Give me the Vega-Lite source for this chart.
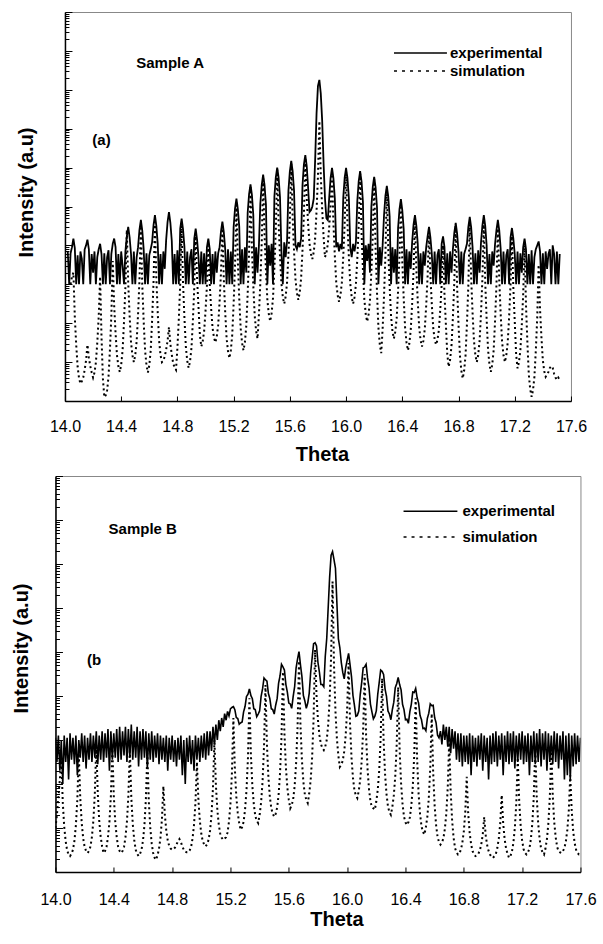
{
"$schema":"https://vega.github.io/schema/vega-lite/v6.json",
"background":"white",
"padding":{"left":10,"top":11,"right":0,"bottom":0},
"config":{"font":"Liberation Sans","view":{"stroke":"#888888","strokeWidth":1},
"axis":{"domainColor":"black","domainWidth":1.5,"tickColor":"black","tickWidth":1,"grid":false,"labelColor":"black","titleColor":"black","labelFontSize":16,"titleFontSize":20,"titleFontWeight":"bold","labelFlush":false,"labelOverlap":false,"zindex":1},
"legend":{"labelFontSize":15,"labelFontWeight":"bold","labelColor":"black"}},
"datasets":{
"a":[{"t":14.02,"e":7000},{"t":14.03,"e":1000},{"t":14.04,"e":6300,"s":1000},{"t":14.05,"e":9000,"s":1580},{"t":14.06,"e":15000,"s":2000},{"t":14.07,"e":8500,"s":145},{"t":14.08,"e":1000,"s":28},{"t":14.09,"e":5600,"s":7.6},{"t":14.10,"e":1000,"s":3.9},{"t":14.11,"e":7000,"s":2.8},{"t":14.12,"e":4500,"s":3.2},{"t":14.13,"e":1000,"s":4},{"t":14.14,"e":7900,"s":6.3},{"t":14.15,"e":10000,"s":11},{"t":14.16,"e":14000,"s":28},{"t":14.17,"e":8000,"s":13},{"t":14.18,"e":1000,"s":7.9},{"t":14.19,"e":6000,"s":5.4},{"t":14.20,"e":2000,"s":4},{"t":14.21,"e":7000,"s":5.4},{"t":14.22,"e":1000,"s":9.8},{"t":14.23,"e":5000,"s":32},{"t":14.24,"e":8000,"s":145},{"t":14.25,"e":11000,"s":1580},{"t":14.26,"e":6000,"s":45},{"t":14.27,"e":1000,"s":3.7},{"t":14.28,"e":6300,"s":1.26},{"t":14.29,"e":1000,"s":1.4},{"t":14.30,"e":5000,"s":1.9},{"t":14.31,"e":7500,"s":4.3},{"t":14.32,"e":1000,"s":21},{"t":14.33,"e":6000,"s":158},{"t":14.34,"e":11000,"s":3980},{"t":14.35,"e":15000,"s":288},{"t":14.36,"e":9000,"s":56},{"t":14.37,"e":1000,"s":15},{"t":14.38,"e":6000,"s":7.8},{"t":14.39,"e":1000,"s":5.6},{"t":14.40,"e":7000,"s":8.5},{"t":14.41,"e":3000,"s":20},{"t":14.42,"e":1000,"s":107},{"t":14.43,"e":7000,"s":870},{"t":14.44,"e":17000,"s":25100},{"t":14.45,"e":30000,"s":1100},{"t":14.46,"e":16000,"s":155},{"t":14.47,"e":6000,"s":32},{"t":14.48,"e":1000,"s":15},{"t":14.49,"e":7000,"s":10},{"t":14.50,"e":1000,"s":15},{"t":14.51,"e":5000,"s":34},{"t":14.52,"e":9000,"s":170},{"t":14.53,"e":25000,"s":1260},{"t":14.54,"e":45000,"s":31600},{"t":14.55,"e":24000,"s":980},{"t":14.56,"e":8000,"s":112},{"t":14.57,"e":1000,"s":20},{"t":14.58,"e":6300,"s":8.3},{"t":14.59,"e":1000,"s":5.4},{"t":14.60,"e":5600,"s":8.3},{"t":14.61,"e":8000,"s":20},{"t":14.62,"e":12000,"s":120},{"t":14.63,"e":33000,"s":1120},{"t":14.64,"e":60000,"s":39800},{"t":14.65,"e":32000,"s":1450},{"t":14.66,"e":11000,"s":182},{"t":14.67,"e":1000,"s":35},{"t":14.68,"e":6000,"s":15},{"t":14.69,"e":1000,"s":10},{"t":14.70,"e":7000,"s":11},{"t":14.71,"e":2500,"s":14},{"t":14.72,"e":14000,"s":21},{"t":14.73,"e":40000,"s":35},{"t":14.74,"e":72000,"s":79},{"t":14.75,"e":38000,"s":29},{"t":14.76,"e":13000,"s":15.5},{"t":14.77,"e":1000,"s":9.3},{"t":14.78,"e":6000,"s":7.2},{"t":14.79,"e":1000,"s":6.3},{"t":14.80,"e":7500,"s":23},{"t":14.81,"e":1000,"s":126},{"t":14.82,"e":27000,"s":1050},{"t":14.83,"e":49000,"s":31600},{"t":14.84,"e":26000,"s":1100},{"t":14.85,"e":9000,"s":135},{"t":14.86,"e":1000,"s":25},{"t":14.87,"e":7000,"s":10.7},{"t":14.88,"e":1000,"s":7.1},{"t":14.89,"e":5000,"s":10.5},{"t":14.90,"e":7900,"s":23},{"t":14.91,"e":1000,"s":115},{"t":14.92,"e":15000,"s":830},{"t":14.93,"e":27000,"s":20000},{"t":14.94,"e":14000,"s":1380},{"t":14.95,"e":5000,"s":263},{"t":14.96,"e":1000,"s":49},{"t":14.97,"e":7000,"s":25},{"t":14.98,"e":1000,"s":34},{"t":14.99,"e":6300,"s":62},{"t":15.00,"e":1000,"s":204},{"t":15.01,"e":9000,"s":910},{"t":15.02,"e":15000,"s":10000},{"t":15.03,"e":8000,"s":1000},{"t":15.04,"e":1000,"s":240},{"t":15.05,"e":6000,"s":76},{"t":15.06,"e":1000,"s":43},{"t":15.07,"e":7000,"s":32},{"t":15.08,"e":2000,"s":45},{"t":15.09,"e":6300,"s":89},{"t":15.10,"e":9000,"s":355},{"t":15.11,"e":23000,"s":2000},{"t":15.12,"e":41000,"s":31600},{"t":15.13,"e":22000,"s":1380},{"t":15.14,"e":8000,"s":195},{"t":15.15,"e":1000,"s":41},{"t":15.16,"e":8000,"s":19},{"t":15.17,"e":1000,"s":12.6},{"t":15.18,"e":7000,"s":20},{"t":15.19,"e":1000,"s":50},{"t":15.20,"e":30000,"s":316},{"t":15.21,"e":90000,"s":3160},{"t":15.22,"e":160000,"s":126000},{"t":15.23,"e":85000,"s":3800},{"t":15.24,"e":30000,"s":427},{"t":15.25,"e":1000,"s":74},{"t":15.26,"e":8000,"s":31},{"t":15.27,"e":1000,"s":20},{"t":15.28,"e":9000,"s":32},{"t":15.29,"e":2000,"s":85},{"t":15.30,"e":70000,"s":590},{"t":15.31,"e":210000,"s":6600},{"t":15.32,"e":370000,"s":316000},{"t":15.33,"e":200000,"s":8700},{"t":15.34,"e":60000,"s":930},{"t":15.35,"e":1000,"s":155},{"t":15.36,"e":9000,"s":63},{"t":15.37,"e":2000,"s":40},{"t":15.38,"e":10000,"s":166},{"t":15.39,"e":120000,"s":1120},{"t":15.40,"e":360000,"s":12300},{"t":15.41,"e":660000,"s":562000},{"t":15.42,"e":350000,"s":18600},{"t":15.43,"e":110000,"s":2240},{"t":15.44,"e":1000,"s":398},{"t":15.45,"e":10000,"s":174},{"t":15.46,"e":3000,"s":112},{"t":15.47,"e":11000,"s":178},{"t":15.48,"e":1000,"s":437},{"t":15.49,"e":180000,"s":2630},{"t":15.50,"e":560000,"s":24500},{"t":15.51,"e":1000000,"s":891000},{"t":15.52,"e":550000,"s":37200},{"t":15.53,"e":170000,"s":5130},{"t":15.54,"e":7000,"s":1050},{"t":15.55,"e":1000,"s":468},{"t":15.56,"e":12000,"s":316},{"t":15.57,"e":5000,"s":479},{"t":15.58,"e":13000,"s":1100},{"t":15.59,"e":260000,"s":5750},{"t":15.60,"e":800000,"s":45700},{"t":15.61,"e":1500000,"s":1260000},{"t":15.62,"e":800000,"s":50100},{"t":15.63,"e":250000,"s":6760},{"t":15.64,"e":10000,"s":1350},{"t":15.65,"e":8000,"s":603},{"t":15.66,"e":12000,"s":398},{"t":15.67,"e":9000,"s":603},{"t":15.68,"e":15000,"s":1410},{"t":15.69,"e":350000,"s":7590},{"t":15.70,"e":1200000,"s":61700},{"t":15.71,"e":2100000,"s":1780000},{"t":15.72,"e":1100000,"s":162000},{"t":15.73,"e":300000,"s":36300},{"t":15.74,"e":72000,"s":11000},{"t":15.75,"e":80000,"s":6030},{"t":15.76,"e":100000,"s":4470},{"t":15.77,"e":160000,"s":6760},{"t":15.78,"e":1600000,"s":15100},{"t":15.79,"e":25000000,"s":77600},{"t":15.80,"e":126000000,"s":603000},{"t":15.81,"e":180000000,"s":15800000},{"t":15.82,"e":80000000,"s":631000},{"t":15.83,"e":16000000,"s":85100},{"t":15.84,"e":1260000,"s":16600},{"t":15.85,"e":160000,"s":5010},{"t":15.86,"e":50000,"s":6460},{"t":15.87,"e":45000,"s":10700},{"t":15.88,"e":170000,"s":29500},{"t":15.89,"e":550000,"s":105000},{"t":15.90,"e":980000,"s":794000},{"t":15.91,"e":530000,"s":36300},{"t":15.92,"e":160000,"s":5370},{"t":15.93,"e":9000,"s":1120},{"t":15.94,"e":12000,"s":525},{"t":15.95,"e":7000,"s":355},{"t":15.96,"e":11000,"s":525},{"t":15.97,"e":8000,"s":1120},{"t":15.98,"e":170000,"s":5250},{"t":15.99,"e":550000,"s":36300},{"t":16.00,"e":980000,"s":794000},{"t":16.01,"e":530000,"s":34700},{"t":16.02,"e":160000,"s":4900},{"t":16.03,"e":9000,"s":1020},{"t":16.04,"e":5000,"s":468},{"t":16.05,"e":11000,"s":316},{"t":16.06,"e":7000,"s":468},{"t":16.07,"e":12000,"s":1000},{"t":16.08,"e":140000,"s":4680},{"t":16.09,"e":450000,"s":32400},{"t":16.10,"e":810000,"s":708000},{"t":16.11,"e":440000,"s":21400},{"t":16.12,"e":130000,"s":2340},{"t":16.13,"e":1000,"s":407},{"t":16.14,"e":10000,"s":170},{"t":16.15,"e":4000,"s":110},{"t":16.16,"e":11000,"s":166},{"t":16.17,"e":2000,"s":389},{"t":16.18,"e":100000,"s":2090},{"t":16.19,"e":320000,"s":17400},{"t":16.20,"e":580000,"s":501000},{"t":16.21,"e":310000,"s":8130},{"t":16.22,"e":95000,"s":617},{"t":16.23,"e":1000,"s":78},{"t":16.24,"e":9000,"s":28},{"t":16.25,"e":3000,"s":17},{"t":16.26,"e":10000,"s":71},{"t":16.27,"e":60000,"s":501},{"t":16.28,"e":190000,"s":5750},{"t":16.29,"e":340000,"s":282000},{"t":16.30,"e":180000,"s":8130},{"t":16.31,"e":55000,"s":891},{"t":16.32,"e":1000,"s":151},{"t":16.33,"e":9000,"s":62},{"t":16.34,"e":2000,"s":40},{"t":16.35,"e":8000,"s":60},{"t":16.36,"e":1000,"s":135},{"t":16.37,"e":28000,"s":676},{"t":16.38,"e":85000,"s":5010},{"t":16.39,"e":155000,"s":126000},{"t":16.40,"e":80000,"s":3800},{"t":16.41,"e":26000,"s":437},{"t":16.42,"e":1000,"s":76},{"t":16.43,"e":8000,"s":32},{"t":16.44,"e":1000,"s":20},{"t":16.45,"e":7000,"s":30},{"t":16.46,"e":2500,"s":66},{"t":16.47,"e":12000,"s":316},{"t":16.48,"e":34000,"s":2240},{"t":16.49,"e":60000,"s":50100},{"t":16.50,"e":32000,"s":2400},{"t":16.51,"e":11000,"s":363},{"t":16.52,"e":1000,"s":79},{"t":16.53,"e":6300,"s":37},{"t":16.54,"e":1000,"s":25},{"t":16.55,"e":7000,"s":35},{"t":16.56,"e":3000,"s":71},{"t":16.57,"e":9000,"s":282},{"t":16.58,"e":17000,"s":1580},{"t":16.59,"e":30000,"s":25100},{"t":16.60,"e":16000,"s":1660},{"t":16.61,"e":6000,"s":302},{"t":16.62,"e":1000,"s":76},{"t":16.63,"e":7000,"s":39},{"t":16.64,"e":1000,"s":28},{"t":16.65,"e":5600,"s":37},{"t":16.66,"e":8000,"s":66},{"t":16.67,"e":1000,"s":219},{"t":16.68,"e":11000,"s":955},{"t":16.69,"e":17000,"s":10000},{"t":16.70,"e":9000,"s":562},{"t":16.71,"e":1000,"s":93},{"t":16.72,"e":6300,"s":16},{"t":16.73,"e":1000,"s":7.6},{"t":16.74,"e":7000,"s":11.5},{"t":16.75,"e":2000,"s":26},{"t":16.76,"e":8000,"s":141},{"t":16.77,"e":21000,"s":1120},{"t":16.78,"e":38000,"s":31600},{"t":16.79,"e":20000,"s":851},{"t":16.80,"e":7000,"s":89},{"t":16.81,"e":1000,"s":15},{"t":16.82,"e":7000,"s":6},{"t":16.83,"e":1000,"s":3.8},{"t":16.84,"e":6000,"s":6},{"t":16.85,"e":8000,"s":15},{"t":16.86,"e":11000,"s":98},{"t":16.87,"e":30000,"s":977},{"t":16.88,"e":54000,"s":39800},{"t":16.89,"e":29000,"s":1450},{"t":16.90,"e":9000,"s":182},{"t":16.91,"e":1000,"s":35},{"t":16.92,"e":6300,"s":15},{"t":16.93,"e":1000,"s":10},{"t":16.94,"e":7500,"s":15},{"t":16.95,"e":2000,"s":35},{"t":16.96,"e":12000,"s":182},{"t":16.97,"e":33000,"s":1450},{"t":16.98,"e":60000,"s":39800},{"t":16.99,"e":32000,"s":1150},{"t":17.00,"e":10000,"s":126},{"t":17.01,"e":1000,"s":21},{"t":17.02,"e":6000,"s":8.7},{"t":17.03,"e":1000,"s":5.6},{"t":17.04,"e":7000,"s":8.7},{"t":17.05,"e":3000,"s":20},{"t":17.06,"e":11000,"s":115},{"t":17.07,"e":25000,"s":1000},{"t":17.08,"e":45000,"s":31600},{"t":17.09,"e":24000,"s":1260},{"t":17.10,"e":8000,"s":166},{"t":17.11,"e":1000,"s":33},{"t":17.12,"e":7000,"s":15},{"t":17.13,"e":1000,"s":10},{"t":17.14,"e":5600,"s":15},{"t":17.15,"e":8000,"s":32},{"t":17.16,"e":1000,"s":145},{"t":17.17,"e":16000,"s":955},{"t":17.18,"e":28000,"s":20000},{"t":17.19,"e":15000,"s":832},{"t":17.20,"e":6000,"s":112},{"t":17.21,"e":1000,"s":15.5},{"t":17.22,"e":7000,"s":6.9},{"t":17.23,"e":1000,"s":10},{"t":17.24,"e":6300,"s":20},{"t":17.25,"e":2000,"s":89},{"t":17.26,"e":9000,"s":550},{"t":17.27,"e":15000,"s":10000},{"t":17.28,"e":8000,"s":295},{"t":17.29,"e":1000,"s":32},{"t":17.30,"e":6000,"s":4.8},{"t":17.31,"e":1000,"s":2},{"t":17.32,"e":7500,"s":1.29},{"t":17.33,"e":1000,"s":1.9},{"t":17.34,"e":5000,"s":4.2},{"t":17.35,"e":8000,"s":20},{"t":17.36,"e":10000,"s":138},{"t":17.37,"e":12600,"s":3160},{"t":17.38,"e":7000,"s":224},{"t":17.39,"e":1000,"s":43},{"t":17.40,"e":6300,"s":11},{"t":17.41,"e":1000,"s":5.8},{"t":17.42,"e":7000,"s":4.2},{"t":17.43,"e":2500,"s":4.8},{"t":17.44,"e":6000,"s":5.6},{"t":17.45,"e":8000,"s":7.1},{"t":17.46,"e":1000,"s":7.9},{"t":17.47,"e":10000,"s":7.1},{"t":17.48,"e":6000,"s":5},{"t":17.49,"e":1000,"s":4},{"t":17.50,"e":7000,"s":3.5},{"t":17.51,"e":1000,"s":4},{"t":17.52,"e":6000,"s":3.5}],
"b":[{"t":14.00,"e":1122,"s":10},{"t":14.01,"e":316,"s":20},{"t":14.02,"e":1259,"s":50},{"t":14.03,"e":200,"s":126},{"t":14.04,"e":1000,"s":398},{"t":14.05,"e":100,"s":39},{"t":14.06,"e":1259,"s":10.7},{"t":14.07,"e":316,"s":5},{"t":14.08,"e":1122,"s":3.1},{"t":14.09,"e":126,"s":2.5},{"t":14.10,"e":1413,"s":2.3},{"t":14.11,"e":355,"s":2.6},{"t":14.12,"e":1122,"s":3.2},{"t":14.13,"e":282,"s":5.1},{"t":14.14,"e":1259,"s":11.5},{"t":14.15,"e":158,"s":45},{"t":14.16,"e":1000,"s":501},{"t":14.17,"e":398,"s":48},{"t":14.18,"e":1413,"s":12.9},{"t":14.19,"e":316,"s":5.9},{"t":14.20,"e":1259,"s":3.7},{"t":14.21,"e":224,"s":3},{"t":14.22,"e":1122,"s":2.7},{"t":14.23,"e":355,"s":3},{"t":14.24,"e":1413,"s":3.8},{"t":14.25,"e":316,"s":6.3},{"t":14.26,"e":1259,"s":14.8},{"t":14.27,"e":398,"s":62},{"t":14.28,"e":1585,"s":794},{"t":14.29,"e":282,"s":62},{"t":14.30,"e":1259,"s":14.8},{"t":14.31,"e":355,"s":6.3},{"t":14.32,"e":1585,"s":3.8},{"t":14.33,"e":316,"s":2.7},{"t":14.34,"e":1413,"s":3},{"t":14.35,"e":398,"s":3.7},{"t":14.36,"e":1778,"s":6.2},{"t":14.37,"e":200,"s":13.8},{"t":14.38,"e":1585,"s":54},{"t":14.39,"e":355,"s":631},{"t":14.40,"e":1413,"s":54},{"t":14.41,"e":398,"s":13.8},{"t":14.42,"e":1778,"s":6.2},{"t":14.43,"e":316,"s":3.7},{"t":14.44,"e":1995,"s":3},{"t":14.45,"e":355,"s":2.7},{"t":14.46,"e":1585,"s":3},{"t":14.47,"e":447,"s":3.7},{"t":14.48,"e":1995,"s":6.2},{"t":14.49,"e":316,"s":13.8},{"t":14.50,"e":1778,"s":54},{"t":14.51,"e":398,"s":631},{"t":14.52,"e":2239,"s":50},{"t":14.53,"e":355,"s":12.3},{"t":14.54,"e":1585,"s":5.4},{"t":14.55,"e":398,"s":3.2},{"t":14.56,"e":1995,"s":2.6},{"t":14.57,"e":251,"s":2.3},{"t":14.58,"e":1585,"s":2.6},{"t":14.59,"e":355,"s":3.2},{"t":14.60,"e":1778,"s":5.1},{"t":14.61,"e":398,"s":11.5},{"t":14.62,"e":1585,"s":45},{"t":14.63,"e":224,"s":501},{"t":14.64,"e":1413,"s":41},{"t":14.65,"e":355,"s":10.2},{"t":14.66,"e":1585,"s":4.4},{"t":14.67,"e":316,"s":2.7},{"t":14.68,"e":1259,"s":2.1},{"t":14.69,"e":398,"s":1.9},{"t":14.70,"e":1413,"s":2.4},{"t":14.71,"e":282,"s":3.4},{"t":14.72,"e":1259,"s":6},{"t":14.73,"e":355,"s":15.8},{"t":14.74,"e":1122,"s":89},{"t":14.75,"e":316,"s":20},{"t":14.76,"e":1259,"s":8.7},{"t":14.77,"e":200,"s":5.2},{"t":14.78,"e":1122,"s":3.9},{"t":14.79,"e":355,"s":3.4},{"t":14.80,"e":1259,"s":3.2},{"t":14.81,"e":316,"s":3.3},{"t":14.82,"e":1000,"s":3.6},{"t":14.83,"e":251,"s":4.2},{"t":14.84,"e":1122,"s":5},{"t":14.85,"e":355,"s":5.6},{"t":14.86,"e":1259,"s":4.8},{"t":14.87,"e":158,"s":3.8},{"t":14.88,"e":1000,"s":3.2},{"t":14.89,"e":100,"s":2.9},{"t":14.90,"e":1122,"s":2.8},{"t":14.91,"e":316,"s":2.8},{"t":14.92,"e":1259,"s":3.1},{"t":14.93,"e":282,"s":3.7},{"t":14.94,"e":1000,"s":5.8},{"t":14.95,"e":200,"s":11.7},{"t":14.96,"e":1259,"s":38},{"t":14.97,"e":355,"s":316},{"t":14.98,"e":1122,"s":44},{"t":14.99,"e":316,"s":14.5},{"t":15.00,"e":1259,"s":7.4},{"t":15.01,"e":398,"s":5},{"t":15.02,"e":1413,"s":4.2},{"t":15.03,"e":355,"s":3.8},{"t":15.04,"e":1585,"s":4.3},{"t":15.05,"e":447,"s":5.4},{"t":15.06,"e":1585,"s":8.7},{"t":15.07,"e":562,"s":20},{"t":15.08,"e":1995,"s":81},{"t":15.09,"e":794,"s":1000},{"t":15.10,"e":2239,"s":95},{"t":15.11,"e":1000,"s":26},{"t":15.12,"e":2818,"s":11.7},{"t":15.13,"e":1585,"s":7.4},{"t":15.14,"e":3162,"s":6},{"t":15.15,"e":1995,"s":5.4},{"t":15.16,"e":3981,"s":5.8},{"t":15.17,"e":2818,"s":6.2},{"t":15.18,"e":4467,"s":7.9},{"t":15.19,"e":3548,"s":14.1},{"t":15.20,"e":5129,"s":36},{"t":15.21,"e":5495,"s":178},{"t":15.22,"e":5754,"s":3162},{"t":15.23,"e":4898,"s":229},{"t":15.24,"e":3236,"s":52},{"t":15.25,"e":3090,"s":22},{"t":15.26,"e":2291,"s":12.9},{"t":15.27,"e":2455,"s":9.1},{"t":15.28,"e":2570,"s":10.5},{"t":15.29,"e":4365,"s":13.8},{"t":15.30,"e":5754,"s":26},{"t":15.31,"e":9772,"s":72},{"t":15.32,"e":10965,"s":398},{"t":15.33,"e":14454,"s":8913},{"t":15.34,"e":10233,"s":468},{"t":15.35,"e":8710,"s":91},{"t":15.36,"e":5129,"s":35},{"t":15.37,"e":4898,"s":19},{"t":15.38,"e":3388,"s":14.8},{"t":15.39,"e":3890,"s":12.9},{"t":15.40,"e":4571,"s":20},{"t":15.41,"e":9772,"s":38},{"t":15.42,"e":14454,"s":112},{"t":15.43,"e":25704,"s":692},{"t":15.44,"e":23442,"s":17783},{"t":15.45,"e":21878,"s":794},{"t":15.46,"e":11482,"s":145},{"t":15.47,"e":8710,"s":51},{"t":15.48,"e":5129,"s":28},{"t":15.49,"e":4898,"s":21},{"t":15.50,"e":3890,"s":18},{"t":15.51,"e":6166,"s":21},{"t":15.52,"e":8710,"s":29},{"t":15.53,"e":19498,"s":56},{"t":15.54,"e":28840,"s":178},{"t":15.55,"e":52481,"s":1175},{"t":15.56,"e":45709,"s":35481},{"t":15.57,"e":38905,"s":1445},{"t":15.58,"e":18197,"s":240},{"t":15.59,"e":12303,"s":83},{"t":15.60,"e":6918,"s":44},{"t":15.61,"e":6607,"s":28},{"t":15.62,"e":5248,"s":33},{"t":15.63,"e":9772,"s":45},{"t":15.64,"e":16218,"s":89},{"t":15.65,"e":43652,"s":288},{"t":15.66,"e":69183,"s":1950},{"t":15.67,"e":102329,"s":63096},{"t":15.68,"e":51286,"s":2239},{"t":15.69,"e":27542,"s":347},{"t":15.70,"e":10233,"s":112},{"t":15.71,"e":7762,"s":58},{"t":15.72,"e":5248,"s":44},{"t":15.73,"e":6918,"s":37},{"t":15.74,"e":11482,"s":60},{"t":15.75,"e":34674,"s":123},{"t":15.76,"e":72444,"s":407},{"t":15.77,"e":154882,"s":3020},{"t":15.78,"e":162181,"s":112202},{"t":15.79,"e":138038,"s":10471},{"t":15.80,"e":57544,"s":2818},{"t":15.81,"e":34674,"s":1288},{"t":15.82,"e":18197,"s":813},{"t":15.83,"e":18197,"s":661},{"t":15.84,"e":16218,"s":589},{"t":15.85,"e":79433,"s":708},{"t":15.86,"e":199526,"s":1000},{"t":15.87,"e":1000000,"s":2188},{"t":15.88,"e":5011872,"s":8318},{"t":15.89,"e":15848932,"s":75858},{"t":15.90,"e":19054607,"s":3981072},{"t":15.91,"e":12589254,"s":50119},{"t":15.92,"e":7943282,"s":4467},{"t":15.93,"e":1258925,"s":1047},{"t":15.94,"e":199526,"s":437},{"t":15.95,"e":125893,"s":245},{"t":15.96,"e":57544,"s":275},{"t":15.97,"e":34674,"s":339},{"t":15.98,"e":24547,"s":550},{"t":15.99,"e":43652,"s":1259},{"t":16.00,"e":64565,"s":4898},{"t":16.01,"e":93325,"s":56234},{"t":16.02,"e":51286,"s":2344},{"t":16.03,"e":27542,"s":398},{"t":16.04,"e":10233,"s":138},{"t":16.05,"e":6166,"s":72},{"t":16.06,"e":3467,"s":55},{"t":16.07,"e":3631,"s":48},{"t":16.08,"e":4571,"s":71},{"t":16.09,"e":10965,"s":126},{"t":16.10,"e":20417,"s":339},{"t":16.11,"e":43652,"s":1698},{"t":16.12,"e":45709,"s":31623},{"t":16.13,"e":52481,"s":1288},{"t":16.14,"e":25704,"s":219},{"t":16.15,"e":15488,"s":76},{"t":16.16,"e":6457,"s":40},{"t":16.17,"e":4365,"s":30},{"t":16.18,"e":3020,"s":28},{"t":16.19,"e":3467,"s":26},{"t":16.20,"e":4571,"s":40},{"t":16.21,"e":10965,"s":74},{"t":16.22,"e":20417,"s":204},{"t":16.23,"e":38905,"s":1148},{"t":16.24,"e":36308,"s":25119},{"t":16.25,"e":30903,"s":1000},{"t":16.26,"e":14454,"s":170},{"t":16.27,"e":9772,"s":59},{"t":16.28,"e":4571,"s":31},{"t":16.29,"e":3890,"s":23},{"t":16.30,"e":2884,"s":20},{"t":16.31,"e":4898,"s":30},{"t":16.32,"e":7244,"s":55},{"t":16.33,"e":15488,"s":148},{"t":16.34,"e":19055,"s":794},{"t":16.35,"e":26303,"s":15849},{"t":16.36,"e":18197,"s":617},{"t":16.37,"e":13804,"s":102},{"t":16.38,"e":6457,"s":35},{"t":16.39,"e":4898,"s":18},{"t":16.40,"e":2884,"s":13.5},{"t":16.41,"e":2951,"s":11.7},{"t":16.42,"e":2399,"s":13.5},{"t":16.43,"e":4365,"s":17.4},{"t":16.44,"e":6457,"s":32},{"t":16.45,"e":12303,"s":85},{"t":16.46,"e":12023,"s":447},{"t":16.47,"e":14791,"s":8913},{"t":16.48,"e":9120,"s":363},{"t":16.49,"e":6918,"s":60},{"t":16.50,"e":3631,"s":21},{"t":16.51,"e":2884,"s":11},{"t":16.52,"e":1820,"s":8.1},{"t":16.53,"e":1862,"s":7.1},{"t":16.54,"e":1622,"s":10.5},{"t":16.55,"e":3090,"s":18},{"t":16.56,"e":4074,"s":48},{"t":16.57,"e":6607,"s":229},{"t":16.58,"e":6026,"s":3981},{"t":16.59,"e":6166,"s":182},{"t":16.60,"e":3236,"s":32},{"t":16.61,"e":2455,"s":11.7},{"t":16.62,"e":1288,"s":6.3},{"t":16.63,"e":1122,"s":4.8},{"t":16.64,"e":1585,"s":4.2},{"t":16.65,"e":794,"s":4.7},{"t":16.66,"e":2239,"s":5.8},{"t":16.67,"e":1000,"s":9.5},{"t":16.68,"e":1995,"s":21},{"t":16.69,"e":708,"s":85},{"t":16.70,"e":1995,"s":1000},{"t":16.71,"e":501,"s":68},{"t":16.72,"e":1778,"s":14.8},{"t":16.73,"e":631,"s":6},{"t":16.74,"e":1585,"s":3.5},{"t":16.75,"e":355,"s":2.8},{"t":16.76,"e":1413,"s":2.5},{"t":16.77,"e":316,"s":2.7},{"t":16.78,"e":1413,"s":3.2},{"t":16.79,"e":251,"s":4.6},{"t":16.80,"e":1259,"s":8.3},{"t":16.81,"e":316,"s":23},{"t":16.82,"e":1259,"s":145},{"t":16.83,"e":282,"s":22},{"t":16.84,"e":1413,"s":7.9},{"t":16.85,"e":158,"s":4.3},{"t":16.86,"e":1259,"s":3},{"t":16.87,"e":316,"s":2.5},{"t":16.88,"e":1122,"s":2.3},{"t":16.89,"e":251,"s":2.4},{"t":16.90,"e":1259,"s":2.6},{"t":16.91,"e":355,"s":3.1},{"t":16.92,"e":1413,"s":4.3},{"t":16.93,"e":200,"s":7.1},{"t":16.94,"e":1259,"s":17.8},{"t":16.95,"e":316,"s":6.9},{"t":16.96,"e":1122,"s":4.1},{"t":16.97,"e":126,"s":3},{"t":16.98,"e":1259,"s":2.5},{"t":16.99,"e":282,"s":2.2},{"t":17.00,"e":1413,"s":2.1},{"t":17.01,"e":316,"s":2.3},{"t":17.02,"e":1585,"s":2.6},{"t":17.03,"e":251,"s":3.5},{"t":17.04,"e":1259,"s":5.8},{"t":17.05,"e":355,"s":12.9},{"t":17.06,"e":1413,"s":56},{"t":17.07,"e":158,"s":12.9},{"t":17.08,"e":1259,"s":5.6},{"t":17.09,"e":316,"s":3.4},{"t":17.10,"e":1585,"s":2.6},{"t":17.11,"e":282,"s":2.1},{"t":17.12,"e":1413,"s":2.3},{"t":17.13,"e":316,"s":2.9},{"t":17.14,"e":1585,"s":4.6},{"t":17.15,"e":224,"s":10},{"t":17.16,"e":1259,"s":37},{"t":17.17,"e":316,"s":398},{"t":17.18,"e":1413,"s":41},{"t":17.19,"e":355,"s":11.2},{"t":17.20,"e":1585,"s":5.2},{"t":17.21,"e":282,"s":3.3},{"t":17.22,"e":1259,"s":2.7},{"t":17.23,"e":316,"s":2.5},{"t":17.24,"e":1413,"s":2.8},{"t":17.25,"e":158,"s":3.4},{"t":17.26,"e":1259,"s":5.6},{"t":17.27,"e":316,"s":12.9},{"t":17.28,"e":1585,"s":52},{"t":17.29,"e":282,"s":631},{"t":17.30,"e":1413,"s":52},{"t":17.31,"e":316,"s":12.9},{"t":17.32,"e":1778,"s":5.6},{"t":17.33,"e":251,"s":3.4},{"t":17.34,"e":1413,"s":2.8},{"t":17.35,"e":355,"s":2.5},{"t":17.36,"e":1585,"s":3.4},{"t":17.37,"e":200,"s":5.6},{"t":17.38,"e":1413,"s":12.9},{"t":17.39,"e":316,"s":52},{"t":17.40,"e":1259,"s":631},{"t":17.41,"e":282,"s":54},{"t":17.42,"e":1585,"s":13.8},{"t":17.43,"e":316,"s":6.2},{"t":17.44,"e":1413,"s":3.7},{"t":17.45,"e":224,"s":3},{"t":17.46,"e":1259,"s":2.8},{"t":17.47,"e":355,"s":2.7},{"t":17.48,"e":1585,"s":3},{"t":17.49,"e":126,"s":3.5},{"t":17.50,"e":1259,"s":5},{"t":17.51,"e":158,"s":9.1},{"t":17.52,"e":1413,"s":25},{"t":17.53,"e":126,"s":158},{"t":17.54,"e":1259,"s":25},{"t":17.55,"e":251,"s":8.5},{"t":17.56,"e":1413,"s":4.6},{"t":17.57,"e":282,"s":3.2},{"t":17.58,"e":1259,"s":2.7},{"t":17.59,"e":316,"s":2.5},{"t":17.60,"e":1122,"s":2.5}]
},
"vconcat":[
{"width":506,"height":389,
"layer":[
{"data":{"name":"a"},"mark":{"type":"line","strokeWidth":2,"strokeDash":[2,3],"clip":true},
"encoding":{
"x":{"field":"t","type":"quantitative","title":"Theta","scale":{"domain":[14,17.6],"nice":false,"zero":false},
"axis":{"values":[14,14.2,14.4,14.6,14.8,15,15.2,15.4,15.6,15.8,16,16.2,16.4,16.6,16.8,17,17.2,17.4,17.6],"labelExpr":"round(datum.value*10) % 4 == 0 ? format(datum.value,'.1f') : ''","tickSize":-5,"labelPadding":22.8,"titleX":257,"titleY":53,"titleBaseline":"middle"}},
"y":{"field":"s","type":"quantitative","title":"Intensity (a.u)","scale":{"type":"log","domain":[1,1e10],"nice":false},
"axis":{"labels":false,"values":[1,2,3,4,5,6,7,8,9,10,20,30,40,50,60,70,80,90,100,200,300,400,500,600,700,800,900,1000,2000,3000,4000,5000,6000,7000,8000,9000,1e4,2e4,3e4,4e4,5e4,6e4,7e4,8e4,9e4,1e5,2e5,3e5,4e5,5e5,6e5,7e5,8e5,9e5,1e6,2e6,3e6,4e6,5e6,6e6,7e6,8e6,9e6,1e7,2e7,3e7,4e7,5e7,6e7,7e7,8e7,9e7,1e8,2e8,3e8,4e8,5e8,6e8,7e8,8e8,9e8,1e9,2e9,3e9,4e9,5e9,6e9,7e9,8e9,9e9,1e10],"tickSize":{"condition":{"test":"abs(log(datum.value)/LN10 - round(log(datum.value)/LN10)) < 0.01","value":-7},"value":-4},"titleX":-38,"titleY":180,"titleBaseline":"middle"}},
"color":{"datum":"simulation","type":"nominal","scale":{"domain":["simulation"],"range":["black"]},
"legend":{"orient":"none","legendX":328,"legendY":31.5,"title":null,"symbolType":"stroke","symbolSize":2800,"symbolStrokeWidth":1.6,"labelOffset":2,"padding":0,
"encode":{"symbols":{"update":{"strokeDash":{"value":[3,5]},"stroke":{"value":"black"}}}}}}}},
{"data":{"name":"a"},"mark":{"type":"line","color":"black","strokeWidth":1.8,"clip":true},
"encoding":{"x":{"field":"t","type":"quantitative","title":"Theta"},"y":{"field":"e","type":"quantitative","title":"Intensity (a.u)"},
"strokeDash":{"datum":"experimental","type":"nominal","scale":{"domain":["experimental"],"range":[[1,0]]},
"legend":{"orient":"none","legendX":328,"legendY":13.5,"title":null,"symbolType":"stroke","symbolSize":2800,"symbolStrokeWidth":1.6,"symbolStrokeColor":"black","labelOffset":2,"padding":0}}}},
{"data":{"values":[{"t":14.507,"v":5e8,"label":"Sample A"},{"t":14.195,"v":5e6,"label":"(a)"}]},
"mark":{"type":"text","align":"left","baseline":"middle","fontSize":15,"fontWeight":"bold","color":"black"},
"encoding":{"x":{"field":"t","type":"quantitative","title":"Theta"},"y":{"field":"v","type":"quantitative","title":"Intensity (a.u)"},"text":{"field":"label"}}}
]},
{"width":525,"height":396,
"layer":[
{"data":{"name":"b"},"mark":{"type":"line","strokeWidth":2,"strokeDash":[2,3],"clip":true},
"encoding":{
"x":{"field":"t","type":"quantitative","title":"Theta","scale":{"domain":[14,17.6],"nice":false,"zero":false},
"axis":{"values":[14,14.2,14.4,14.6,14.8,15,15.2,15.4,15.6,15.8,16,16.2,16.4,16.6,16.8,17,17.2,17.4,17.6],"labelExpr":"round(datum.value*10) % 4 == 0 ? format(datum.value,'.1f') : ''","tickSize":-5,"labelPadding":24.3,"titleX":281,"titleY":47,"titleBaseline":"middle"}},
"y":{"field":"s","type":"quantitative","title":"Intensity (a.u)","scale":{"type":"log","domain":[1,1e9],"nice":false},
"axis":{"labels":false,"values":[1,2,3,4,5,6,7,8,9,10,20,30,40,50,60,70,80,90,100,200,300,400,500,600,700,800,900,1000,2000,3000,4000,5000,6000,7000,8000,9000,1e4,2e4,3e4,4e4,5e4,6e4,7e4,8e4,9e4,1e5,2e5,3e5,4e5,5e5,6e5,7e5,8e5,9e5,1e6,2e6,3e6,4e6,5e6,6e6,7e6,8e6,9e6,1e7,2e7,3e7,4e7,5e7,6e7,7e7,8e7,9e7,1e8,2e8,3e8,4e8,5e8,6e8,7e8,8e8,9e8,1e9],"tickSize":{"condition":{"test":"abs(log(datum.value)/LN10 - round(log(datum.value)/LN10)) < 0.01","value":-7},"value":-4},"titleX":-34,"titleY":172,"titleBaseline":"middle"}},
"color":{"datum":"simulation","type":"nominal","scale":{"domain":["simulation"],"range":["black"]},
"legend":{"orient":"none","legendX":347,"legendY":33,"title":null,"symbolType":"stroke","symbolSize":2900,"symbolStrokeWidth":1.6,"labelOffset":4,"padding":0,
"encode":{"symbols":{"update":{"strokeDash":{"value":[3,5]},"stroke":{"value":"black"}}}}}}}},
{"data":{"name":"b"},"mark":{"type":"line","color":"black","strokeWidth":1.6,"clip":true},
"encoding":{"x":{"field":"t","type":"quantitative","title":"Theta"},"y":{"field":"e","type":"quantitative","title":"Intensity (a.u)"},
"strokeDash":{"datum":"experimental","type":"nominal","scale":{"domain":["experimental"],"range":[[1,0]]},
"legend":{"orient":"none","legendX":347,"legendY":7.3,"title":null,"symbolType":"stroke","symbolSize":2900,"symbolStrokeWidth":1.6,"symbolStrokeColor":"black","labelOffset":4,"padding":0}}}},
{"data":{"values":[{"t":14.364,"v":6.3e7,"label":"Sample B"},{"t":14.217,"v":6.5e4,"label":"(b"}]},
"mark":{"type":"text","align":"left","baseline":"middle","fontSize":15,"fontWeight":"bold","color":"black"},
"encoding":{"x":{"field":"t","type":"quantitative","title":"Theta"},"y":{"field":"v","type":"quantitative","title":"Intensity (a.u)"},"text":{"field":"label"}}}
]}
],
"spacing":10,
"center":true,
"resolve":{"scale":{"x":"independent","y":"independent","strokeDash":"independent","color":"independent"},"legend":{"strokeDash":"independent","color":"independent"}}
}
